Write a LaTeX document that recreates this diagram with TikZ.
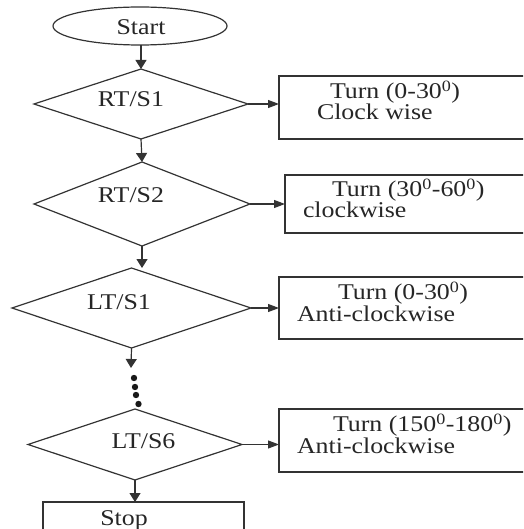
\documentclass[tikz,border=0pt]{standalone}
\usepackage{fontspec}
\setmainfont[FakeStretch=1.15]{Liberation Serif}
\usetikzlibrary{shapes.geometric,arrows.meta}
\definecolor{ln}{HTML}{333333}
\begin{document}
\begin{tikzpicture}[x=1pt,y=-1pt,
  every node/.style={inner sep=0pt,outer sep=0pt},
  shp/.style={draw=ln,line width=1.2pt},
  dia/.style={shp,diamond},
  rbox/.style={shp,rectangle,anchor=north west,minimum width=320pt},
  txt/.style={font=\fontsize{22.5}{20}\selectfont,text=black!85,anchor=base},
  ltxt/.style={txt,anchor=base west,align=left},
  varr/.style={draw=ln,line width=1.2pt,-{Triangle[length=9pt,width=11pt]}},
  harr/.style={draw=ln,line width=1.1pt,-{Triangle[length=11pt,width=8pt]}}]
\useasboundingbox (0,0) rectangle (523,529);
\clip (0,0) rectangle (523,529);
% start
\node[shp,ellipse,minimum width=174pt,minimum height=38pt] (start) at (140,26) {};
\node[txt] (tstart) at (141,35) {Start};
% diamonds
\node[dia,minimum width=214pt,minimum height=70pt] (rt1) at (141,104) {};
\node[txt] (trt1) at (131,107) {RT/S1};
\node[dia,minimum width=216pt,minimum height=84pt] (rt2) at (142,204) {};
\node[txt] (trt2) at (131,203) {RT/S2};
\node[dia,minimum width=239pt,minimum height=80pt] (lt1) at (131.5,308) {};
\node[txt] (tlt1) at (119,309) {LT/S1};
\node[dia,minimum width=214pt,minimum height=71pt] (lt6) at (135,444.5) {};
\node[txt] (tlt6) at (143.5,448) {LT/S6};
% stop
\node[shp,rectangle,anchor=north west,minimum width=201pt,minimum height=60pt] (stop) at (43,502) {};
\node[txt] (tstop) at (124,525) {Stop};
% right boxes
\node[rbox,minimum height=63pt] (b1) at (279,76) {};
\node[ltxt] (t1) at (317,120) {\hspace{13pt}Turn (0-30\textsuperscript{0})\\Clock wise};
\node[rbox,minimum height=58pt] (b2) at (285,175) {};
\node[ltxt] (t2) at (303,218) {\hspace{29pt}Turn (30\textsuperscript{0}-60\textsuperscript{0})\\clockwise};
\node[rbox,minimum height=62pt] (b3) at (279,277) {};
\node[ltxt] (t3) at (297,321) {\hspace{41pt}Turn (0-30\textsuperscript{0})\\Anti-clockwise};
\node[rbox,minimum height=63pt] (b4) at (279,409) {};
\node[ltxt] (t4) at (297,453) {\hspace{36pt}Turn (150\textsuperscript{0}-180\textsuperscript{0})\\Anti-clockwise};
% vertical arrows
\draw[varr] (rt1.north |- start.south) -- (rt1.north);
\draw[varr] (rt1.south) -- (rt2.north);
\coordinate (lt1top) at (rt2.south |- lt1.north);
\draw[varr] (rt2.south) -- (lt1top);
\coordinate (dtop) at (131,368);
\draw[varr] (lt1.south) -- (dtop);
\coordinate (stoptop) at (lt6.south |- stop.north);
\draw[varr] (lt6.south) -- (stoptop);
% dots
\foreach \x/\y in {134/378, 135/387, 136/395, 138.5/404}
  \fill[black!90] (\x,\y) circle (3.2pt);
% horizontal arrows
\draw[harr] (rt1.east) -- (rt1.east -| b1.west);
\draw[harr] (rt2.east) -- (rt2.east -| b2.west);
\draw[harr] (lt1.east) -- (lt1.east -| b3.west);
\draw[harr] (lt6.east) -- (lt6.east -| b4.west);
\end{tikzpicture}
\end{document}
